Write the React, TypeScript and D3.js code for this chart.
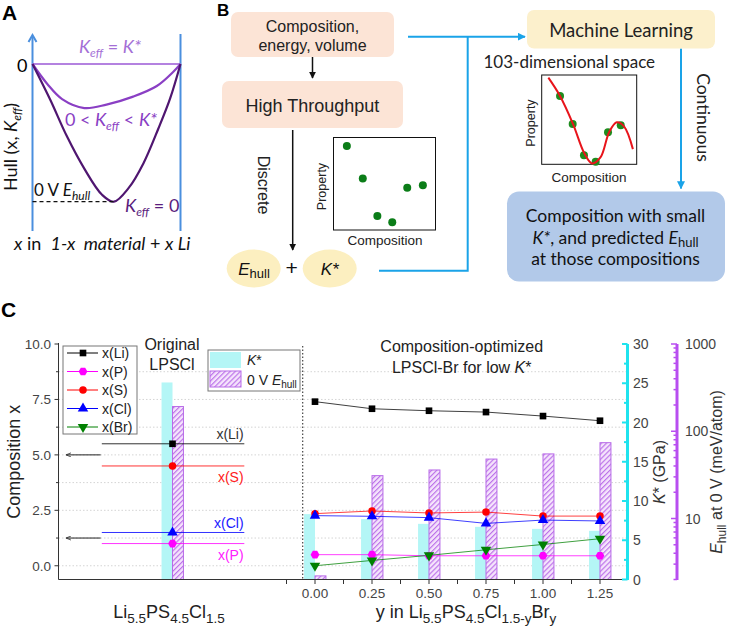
import React from "react";
import * as d3 from "d3";

const ARIAL = "'Liberation Sans', Arial, Helvetica, sans-serif";
const CAL = "Lato, 'Open Sans', sans-serif";

// ---------- Panel A (schematic) ----------
const hullMidX = [0, 0.1, 0.2, 0.35, 0.5, 0.68, 0.84, 0.95, 1];
const hullMidDepth = [0, 0.145, 0.255, 0.32, 0.295, 0.237, 0.16, 0.058, 0];
const hullLowX = [0, 0.12, 0.23, 0.35, 0.47, 0.55, 0.65, 0.75, 0.85, 0.93, 1];
const hullLowDepth = [0, 0.26, 0.52, 0.76, 0.95, 1.0, 0.9, 0.72, 0.47, 0.25, 0];

// ---------- Panel B (schematic insets) ----------
const htCompX = [0.131, 0.287, 0.43, 0.576, 0.723, 0.876];
const htPropY = [0.909, 0.558, 0.151, 0.083, 0.456, 0.485];
const mlCurveX = [0.07, 0.19, 0.33, 0.45, 0.53, 0.62, 0.71, 0.79, 0.87, 0.96];
const mlCurveY = [0.97, 0.77, 0.45, 0.12, 0.01, 0.08, 0.36, 0.47, 0.42, 0.17];
const mlCompX = [0.193, 0.326, 0.445, 0.568, 0.698, 0.832];
const mlPropY = [0.765, 0.451, 0.101, 0.029, 0.358, 0.437];

// ---------- Panel C data ----------
const brContent = [0, 0.25, 0.5, 0.75, 1.0, 1.25];
const brTickLabels = ["0.00", "0.25", "0.50", "0.75", "1.00", "1.25"];
const seriesNames = ["x(Li)", "x(P)", "x(S)", "x(Cl)", "x(Br)"];
const seriesColors = ["#000000", "#ff00ff", "#ff0000", "#0000ff", "#008000"];
const xLi = [7.4, 7.08, 6.99, 6.93, 6.75, 6.54];
const xP = [0.5, 0.5, 0.45, 0.45, 0.45, 0.45];
const xS = [2.35, 2.47, 2.38, 2.42, 2.24, 2.24];
const xCl = [2.26, 2.23, 2.17, 1.91, 2.06, 2.02];
const xBr = [0.0, 0.24, 0.47, 0.72, 0.96, 1.22];
const kStarGPa = [8.33, 7.69, 7.09, 6.71, 6.45, 6.2];
const eHullMeV = [2.2, 31, 36, 48, 55, 74];

const origLabels = ["x(Li)", "x(S)", "x(Cl)", "x(P)"];
const origValues = [5.5, 4.5, 1.5, 1.0];
const origColors = ["#000000", "#ff0000", "#0000ff", "#ff00ff"];
const origTextColors = ["#333333", "#ff2020", "#2020ff", "#ff20ff"];
const origSymbolIdx = [0, 2, 3, 1];
const origLabelAbove = [true, false, true, false];
const origKStar = 25.1;
const origEHull = 192;
const arrowLevels = [5.0, 1.25];

const leftTickValues = [0, 2.5, 5, 7.5, 10];
const leftTickLabels = ["0.0", "2.5", "5.0", "7.5", "10.0"];
const kTickValues = [0, 5, 10, 15, 20, 25, 30];
const eTickValues = [10, 100, 1000];

const hexagon = {
  draw(ctx: any, size: number) {
    const r = Math.sqrt((size * 2) / (3 * Math.sqrt(3)));
    for (let i = 0; i < 6; i++) {
      const a = (Math.PI / 3) * i;
      const x = r * Math.cos(a), y = r * Math.sin(a);
      if (i) ctx.lineTo(x, y); else ctx.moveTo(x, y);
    }
    ctx.closePath();
  },
};
const symbolTypes: any[] = [d3.symbolSquare, hexagon, d3.symbolCircle, d3.symbolTriangle, d3.symbolTriangle];
const symbolRot = [0, 0, 0, 0, 180];
const symbolSize = [44, 50, 44, 48, 48];

function Marker({ i, x, y }: { i: number; x: number; y: number }) {
  const p = d3.symbol().type(symbolTypes[i]).size(symbolSize[i])() as string;
  return <path d={p} transform={`translate(${x},${y}) rotate(${symbolRot[i]})`} fill={seriesColors[i]} />;
}

type Seg = { t: string; sub?: boolean; it?: boolean };
function rich(segs: Seg[], shift: number, subSize: number) {
  let cur = 0;
  return segs.map((s, k) => {
    const target = s.sub ? shift : 0;
    const dy = target - cur;
    cur = target;
    return (
      <tspan key={k} dy={dy || undefined} fontSize={s.sub ? subSize : undefined} fontStyle={s.it ? "italic" : undefined}>
        {s.t}
      </tspan>
    );
  });
}

export default function App() {
  // ----- Panel A scales -----
  const aX = d3.scaleLinear().domain([0, 1]).range([32.5, 180.5]);
  const aY = d3.scaleLinear().domain([0, 1]).range([64, 201.7]);
  const mkA = (xs: number[], ys: number[]) =>
    d3.line<number>().x((d) => aX(xs[d])).y((d) => aY(ys[d])).curve(d3.curveCatmullRom.alpha(0.5))(xs.map((_, i) => i)) as string;
  const aBlue = "#4a8fde";

  // ----- Panel B insets -----
  const hX = d3.scaleLinear().domain([0, 1]).range([333.5, 435.5]);
  const hY = d3.scaleLinear().domain([0, 1]).range([230, 137.5]);
  const mX = d3.scaleLinear().domain([0, 1]).range([541.7, 636.7]);
  const mY = d3.scaleLinear().domain([0, 1]).range([164.3, 75]);
  const mlPath = d3
    .line<number>()
    .x((d) => mX(mlCurveX[d]))
    .y((d) => mY(mlCurveY[d]))
    .curve(d3.curveCatmullRom.alpha(0.5))(mlCurveX.map((_, i) => i)) as string;
  const lb = "#1aa3e8";

  // ----- Panel C scales -----
  const xC = d3.scaleLinear().domain([-1.125, 1.375]).range([58.5, 628.5]);
  const yC = d3.scaleLinear().domain([-0.62, 10]).range([579.5, 344]);
  const kC = d3.scaleLinear().domain([0, 30]).range([579.5, 344]);
  const eC = d3.scaleLog().domain([2, 1000]).range([579.5, 344]);
  const origX = -0.625;
  const barW = 0.048;
  const allSeries = [xLi, xP, xS, xCl, xBr];
  const cyanFill = "#b4f6f6";
  const cyanAxis = "#1fe3ee";
  const purpAxis = "#b84ef0";
  const gridVals = d3.range(0, 10, 1.25);
  const xTicks = d3.range(-0.125, 1.3751, 0.125).filter((v) => v < 1.37);
  const eMinor = eC.ticks();

  return (
    <svg width={729} height={630} style={{ position: "absolute", left: 0, top: 0, background: "#fff" }}>
      <defs>
        <pattern id="hatch" patternUnits="userSpaceOnUse" width="3.6" height="3.6" patternTransform="rotate(45)">
          <rect width="3.6" height="3.6" fill="#f5e4fc" />
          <line x1="0.6" y1="0" x2="0.6" y2="3.6" stroke="#b86ae8" strokeWidth="1.1" />
        </pattern>
        <marker id="arrBlk" viewBox="0 0 10 10" refX="9" refY="5" markerWidth="7" markerHeight="7" orient="auto-start-reverse" markerUnits="userSpaceOnUse">
          <path d="M0,0 L10,5 L0,10 z" fill="#111" />
        </marker>
        <marker id="arrBlu" viewBox="0 0 10 10" refX="9" refY="5" markerWidth="8" markerHeight="8" orient="auto" markerUnits="userSpaceOnUse">
          <path d="M0,0 L10,5 L0,10 z" fill={lb} />
        </marker>
        <marker id="arrSmall" viewBox="0 0 10 10" refX="9" refY="5" markerWidth="6" markerHeight="5" orient="auto" markerUnits="userSpaceOnUse">
          <path d="M0,1 L10,5 L0,9" fill="none" stroke="#222" strokeWidth="1.5" />
        </marker>
      </defs>

      {/* ================= Panel A ================= */}
      <text x={2} y={20} fontFamily={ARIAL} fontWeight="bold" fontSize={21}>A</text>
      <line x1={aX(0)} y1={36} x2={aX(0)} y2={231} stroke={aBlue} strokeWidth={2} />
      <polyline points={`${aX(0) - 4},${42} ${aX(0)},${35} ${aX(0) + 4},${42}`} fill="none" stroke={aBlue} strokeWidth={2} />
      <line x1={aX(1)} y1={34} x2={aX(1)} y2={231} stroke={aBlue} strokeWidth={2} />
      <line x1={aX(0)} y1={aY(0)} x2={aX(1)} y2={aY(0)} stroke="#b482e0" strokeWidth={2} />
      <path d={mkA(hullMidX, hullMidDepth)} fill="none" stroke="#8a3fc4" strokeWidth={2.2} />
      <path d={mkA(hullLowX, hullLowDepth)} fill="none" stroke="#4f1670" strokeWidth={2.2} />
      <line x1={aX(0)} y1={aY(1)} x2={aX(0.55)} y2={aY(1)} stroke="#111" strokeWidth={1.3} strokeDasharray="4,3" />
      <text x={17} y={72} fontFamily={CAL} fontSize={18}>0</text>
      <text x={110} y={53} fontFamily={CAL} fontSize={18} fill="#a46fd6" textAnchor="middle">
        {rich([{ t: "K", it: true }, { t: "eff", it: true, sub: true }, { t: " = " }, { t: "K*", it: true }], 4, 12)}
      </text>
      <text x={111} y={126} fontFamily={CAL} fontSize={18} fill="#8a3fc4" textAnchor="middle">
        {rich([{ t: "0 < " }, { t: "K", it: true }, { t: "eff", it: true, sub: true }, { t: " < " }, { t: "K*", it: true }], 4, 12)}
      </text>
      <text x={125} y={212} fontFamily={CAL} fontSize={18} fill="#5a1d7d">
        {rich([{ t: "K", it: true }, { t: "eff", it: true, sub: true }, { t: " = 0" }], 4, 12)}
      </text>
      <text x={34} y={196} fontFamily={CAL} fontSize={17} fill="#111">
        {rich([{ t: "0 V " }, { t: "E", it: true }, { t: "hull", it: true, sub: true }], 4, 12)}
      </text>
      <text transform="translate(17,147) rotate(-90)" fontFamily={CAL} fontSize={18} textAnchor="middle" fill="#111">
        {rich([{ t: "Hull (x, " }, { t: "K", it: true }, { t: "eff", it: true, sub: true }, { t: ")" }], 4, 12)}
      </text>
      <text x={14} y={250} fontFamily={CAL} fontSize={18} fill="#111" xmlSpace="preserve">
        <tspan fontStyle="italic">x</tspan>
        <tspan> in  </tspan>
        <tspan fontStyle="italic">1-x  material</tspan>
        <tspan> + </tspan>
        <tspan fontStyle="italic">x Li</tspan>
      </text>

      {/* ================= Panel B ================= */}
      <text x={217} y={16} fontFamily={ARIAL} fontWeight="bold" fontSize={17}>B</text>
      <rect x={231} y={12} width={163} height={45} rx={7} fill="#fce4d6" />
      <text x={312.5} y={31.5} fontFamily={ARIAL} fontSize={16} textAnchor="middle" fill="#222">Composition,</text>
      <text x={312.5} y={51} fontFamily={ARIAL} fontSize={16} textAnchor="middle" fill="#222">energy,  volume</text>
      <line x1={312.5} y1={57} x2={312.5} y2={78} stroke="#111" strokeWidth={1.5} markerEnd="url(#arrBlk)" />
      <rect x={222} y={81} width={181} height={47} rx={7} fill="#fce4d6" />
      <text x={312.5} y={112} fontFamily={ARIAL} fontSize={18} textAnchor="middle" fill="#222">High Throughput</text>
      <line x1={292.7} y1={130} x2={292.7} y2={250} stroke="#111" strokeWidth={1.5} markerEnd="url(#arrBlk)" />
      <text transform="translate(258,185) rotate(90)" fontFamily={ARIAL} fontSize={16} textAnchor="middle" fill="#222">Discrete</text>

      <rect x={333.5} y={137.5} width={102} height={92.5} fill="none" stroke="#111" strokeWidth={1} />
      {htCompX.map((c, i) => (
        <circle key={i} cx={hX(c)} cy={hY(htPropY[i])} r={4} fill="#0b7d18" />
      ))}
      <text transform="translate(326,186.5) rotate(-90)" fontFamily={ARIAL} fontSize={12.5} textAnchor="middle" fill="#222">Property</text>
      <text x={385} y={244.5} fontFamily={ARIAL} fontSize={13.5} textAnchor="middle" fill="#222">Composition</text>

      <ellipse cx={253.7} cy={268.5} rx={27} ry={19} fill="#fcefc0" />
      <ellipse cx={329.7} cy={268.5} rx={27} ry={19} fill="#fcefc0" />
      <text x={254} y={274.5} fontFamily={ARIAL} fontSize={17} textAnchor="middle" fill="#111">
        {rich([{ t: "E", it: true }, { t: "hull", sub: true }], 3, 13)}
      </text>
      <text x={291.7} y={275} fontFamily={ARIAL} fontSize={21} textAnchor="middle" fill="#111">+</text>
      <text x={329.7} y={274.5} fontFamily={ARIAL} fontSize={17} textAnchor="middle" fontStyle="italic" fill="#111">K*</text>

      <path d="M379,270.7 H467.7 V36.7" fill="none" stroke={lb} strokeWidth={2} />
      <line x1={408} y1={36.7} x2={525} y2={36.7} stroke={lb} strokeWidth={2} markerEnd="url(#arrBlu)" />
      <line x1={681} y1={48.5} x2={681} y2={188.5} stroke={lb} strokeWidth={2} markerEnd="url(#arrBlu)" />

      <rect x={527} y={10} width={188} height={38.5} rx={7} fill="#fcf0cc" />
      <text x={621} y={36.5} fontFamily={CAL} fontSize={18.5} textAnchor="middle" fill="#222">Machine Learning</text>
      <text x={483.5} y={68.3} fontFamily={CAL} fontSize={17} fill="#222">103-dimensional space</text>
      <text transform="translate(697,117.5) rotate(90)" fontFamily={CAL} fontSize={17.5} textAnchor="middle" fill="#222">Continuous</text>

      <rect x={541.7} y={75} width={95} height={89.3} fill="none" stroke="#111" strokeWidth={1} />
      {mlCompX.map((c, i) => (
        <circle key={i} cx={mX(c)} cy={mY(mlPropY[i])} r={4} fill="#1e8c1e" />
      ))}
      <path d={mlPath} fill="none" stroke="#e8141b" strokeWidth={2} />
      <text transform="translate(535,123) rotate(-90)" fontFamily={ARIAL} fontSize={12.5} textAnchor="middle" fill="#222">Property</text>
      <text x={589} y={181.5} fontFamily={ARIAL} fontSize={13.5} textAnchor="middle" fill="#222">Composition</text>

      <rect x={507} y={191.5} width={218} height={90} rx={12} fill="#b2c9e9" />
      <text x={615.5} y={222} fontFamily={CAL} fontSize={17.5} textAnchor="middle" fill="#111">Composition with small</text>
      <text x={615.5} y={243.5} fontFamily={CAL} fontSize={17.5} textAnchor="middle" fill="#111">
        {rich([{ t: "K*", it: true }, { t: ", and predicted " }, { t: "E", it: true }, { t: "hull", sub: true }], 3, 13)}
      </text>
      <text x={615.5} y={265} fontFamily={CAL} fontSize={17.5} textAnchor="middle" fill="#111">at those compositions</text>

      {/* ================= Panel C ================= */}
      <text x={1} y={317} fontFamily={ARIAL} fontWeight="bold" fontSize={21}>C</text>

      {gridVals.map((v) => (
        <line key={v} x1={xC(-1.125)} x2={xC(1.375)} y1={yC(v)} y2={yC(v)} stroke="#d4d4d4" strokeWidth={1} strokeDasharray="1.5,2" />
      ))}

      {/* bars */}
      <rect x={xC(origX - barW)} y={kC(origKStar)} width={xC(origX) - xC(origX - barW)} height={kC(0) - kC(origKStar)} fill={cyanFill} />
      <rect x={xC(origX)} y={eC(origEHull)} width={xC(origX + barW) - xC(origX)} height={eC(2) - eC(origEHull)} fill="url(#hatch)" stroke="#b86ae8" strokeWidth={1} />
      {brContent.map((b, i) => (
        <g key={b}>
          <rect x={xC(b - barW)} y={kC(kStarGPa[i])} width={xC(b) - xC(b - barW)} height={kC(0) - kC(kStarGPa[i])} fill={cyanFill} />
          <rect x={xC(b)} y={eC(eHullMeV[i])} width={xC(b + barW) - xC(b)} height={eC(2) - eC(eHullMeV[i])} fill="url(#hatch)" stroke="#b86ae8" strokeWidth={1} />
        </g>
      ))}

      <line x1={xC(-0.054)} x2={xC(-0.054)} y1={346} y2={579.5} stroke="#444" strokeWidth={1.2} strokeDasharray="1.5,2" />

      {/* original composition lines */}
      {origValues.map((v, i) => (
        <g key={i}>
          <line x1={xC(-0.935)} x2={xC(-0.31)} y1={yC(v)} y2={yC(v)} stroke={origColors[i]} strokeWidth={1} opacity={0.8} />
          <text x={xC(-0.313)} y={origLabelAbove[i] ? yC(v) - 4.5 : yC(v) + 16} fontFamily={ARIAL} fontSize={14} textAnchor="end" fill={origTextColors[i]}>
            {origLabels[i]}
          </text>
        </g>
      ))}
      {origValues.map((v, i) => (
        <Marker key={i} i={origSymbolIdx[i]} x={xC(origX)} y={yC(v)} />
      ))}
      {arrowLevels.map((v) => (
        <line key={v} x1={xC(-0.94)} x2={xC(-1.09)} y1={yC(v)} y2={yC(v)} stroke="#222" strokeWidth={1} markerEnd="url(#arrSmall)" />
      ))}

      {/* series lines */}
      {allSeries.map((s, si) => {
        const p = d3.line<number>().x((d, i) => xC(brContent[i])).y((d) => yC(d))(s) as string;
        return <path key={si} d={p} fill="none" stroke={seriesColors[si]} strokeWidth={1} opacity={0.75} />;
      })}
      {allSeries.map((s, si) => s.map((v, i) => <Marker key={`${si}-${i}`} i={si} x={xC(brContent[i])} y={yC(v)} />))}

      {/* titles */}
      <text x={172} y={350} fontFamily={ARIAL} fontSize={16} textAnchor="middle" fill="#222">Original</text>
      <text x={172} y={370} fontFamily={ARIAL} fontSize={16} textAnchor="middle" fill="#222">LPSCl</text>
      <text x={461.7} y={352} fontFamily={ARIAL} fontSize={16} textAnchor="middle" fill="#222">Composition-optimized</text>
      <text x={461.7} y={373} fontFamily={ARIAL} fontSize={16} textAnchor="middle" fill="#222">
        LPSCl-Br for low <tspan fontStyle="italic">K</tspan>*
      </text>

      {/* series legend */}
      <rect x={63} y={346} width={74} height={88} fill="#fff" stroke="#777" strokeWidth={1} />
      {seriesNames.map((n, i) => {
        const y = 353 + i * 18.5;
        return (
          <g key={n}>
            <line x1={67} x2={98} y1={y} y2={y} stroke={seriesColors[i]} strokeWidth={1} />
            <Marker i={i} x={83} y={y} />
            <text x={102} y={y + 5} fontFamily={ARIAL} fontSize={14} fill="#222">{n}</text>
          </g>
        );
      })}

      {/* bar legend */}
      <rect x={208} y={350} width={92} height={41} fill="#fff" stroke="#777" strokeWidth={1} />
      <rect x={210} y={352} width={31} height={16} fill={cyanFill} />
      <text x={247} y={365} fontFamily={ARIAL} fontSize={14} fill="#222">
        <tspan fontStyle="italic">K</tspan>*
      </text>
      <rect x={210} y={371} width={31} height={16} fill="url(#hatch)" stroke="#b86ae8" strokeWidth={1} />
      <text x={247} y={384.5} fontFamily={ARIAL} fontSize={14} fill="#222">
        {rich([{ t: "0 V " }, { t: "E", it: true }, { t: "hull", sub: true }], 3, 10)}
      </text>

      {/* left axis */}
      <line x1={58.5} x2={58.5} y1={343} y2={579.5} stroke="#333" strokeWidth={1} />
      {gridVals.map((v) => (
        <line key={v} x1={58.5} x2={leftTickValues.includes(v) ? 54.5 : 56} y1={yC(v)} y2={yC(v)} stroke="#333" strokeWidth={1} />
      ))}
      <line x1={58.5} x2={54.5} y1={yC(10)} y2={yC(10)} stroke="#333" strokeWidth={1} />
      {leftTickValues.map((v, i) => (
        <text key={v} x={51} y={yC(v) + 5} fontFamily={ARIAL} fontSize={13.5} textAnchor="end" fill="#444">
          {leftTickLabels[i]}
        </text>
      ))}
      <text transform={`translate(20,${yC(4.69)}) rotate(-90)`} fontFamily={ARIAL} fontSize={18} textAnchor="middle" fill="#222">
        Composition x
      </text>

      {/* bottom axis */}
      <line x1={58.5} x2={627.5} y1={579.5} y2={579.5} stroke="#333" strokeWidth={1} />
      {xTicks.map((v) => (
        <line key={v} x1={xC(v)} x2={xC(v)} y1={579.5} y2={584} stroke="#333" strokeWidth={1} />
      ))}
      {brContent.map((v, i) => (
        <text key={v} x={xC(v)} y={598} fontFamily={ARIAL} fontSize={13.5} textAnchor="middle" fill="#444">
          {brTickLabels[i]}
        </text>
      ))}
      <text x={169} y={618} fontFamily={ARIAL} fontSize={18} textAnchor="middle" fill="#222">
        {rich([{ t: "Li" }, { t: "5.5", sub: true }, { t: "PS" }, { t: "4.5", sub: true }, { t: "Cl" }, { t: "1.5", sub: true }], 5, 13.5)}
      </text>
      <text x={466} y={618} fontFamily={ARIAL} fontSize={18} textAnchor="middle" fill="#222">
        {rich(
          [{ t: "y in Li" }, { t: "5.5", sub: true }, { t: "PS" }, { t: "4.5", sub: true }, { t: "Cl" }, { t: "1.5-y", sub: true }, { t: "Br" }, { t: "y", sub: true }],
          5,
          13.5
        )}
      </text>

      {/* K* axis */}
      <line x1={627.5} x2={627.5} y1={344} y2={580} stroke={cyanAxis} strokeWidth={3} />
      {d3.range(0, 30.1, 2.5).map((v) => (
        <line key={v} x1={627.5} x2={v % 5 === 0 ? 622 : 624} y1={kC(v)} y2={kC(v)} stroke={cyanAxis} strokeWidth={2} />
      ))}
      {kTickValues.map((v) => (
        <text key={v} x={633} y={kC(v) + 5} fontFamily={ARIAL} fontSize={14} fill="#444">{v}</text>
      ))}
      <text transform={`translate(665,472) rotate(-90)`} fontFamily={ARIAL} fontSize={16} textAnchor="middle" fill="#333">
        <tspan fontStyle="italic">K</tspan>* (GPa)
      </text>

      {/* E_hull axis */}
      <line x1={677} x2={677} y1={344} y2={580} stroke={purpAxis} strokeWidth={3} />
      {eMinor.map((v) => {
        const major = eTickValues.includes(v) || v === 1000;
        return <line key={v} x1={677} x2={major ? 671 : 673.5} y1={eC(v)} y2={eC(v)} stroke={purpAxis} strokeWidth={1.5} />;
      })}
      {eTickValues.map((v) => (
        <text key={v} x={685} y={eC(v) + 5} fontFamily={ARIAL} fontSize={14} fill="#444">{v}</text>
      ))}
      <text transform={`translate(722,472) rotate(-90)`} fontFamily={ARIAL} fontSize={16} textAnchor="middle" fill="#333">
        {rich([{ t: "E", it: true }, { t: "hull", sub: true }, { t: " at 0 V (meV/atom)" }], 4, 12)}
      </text>
    </svg>
  );
}
